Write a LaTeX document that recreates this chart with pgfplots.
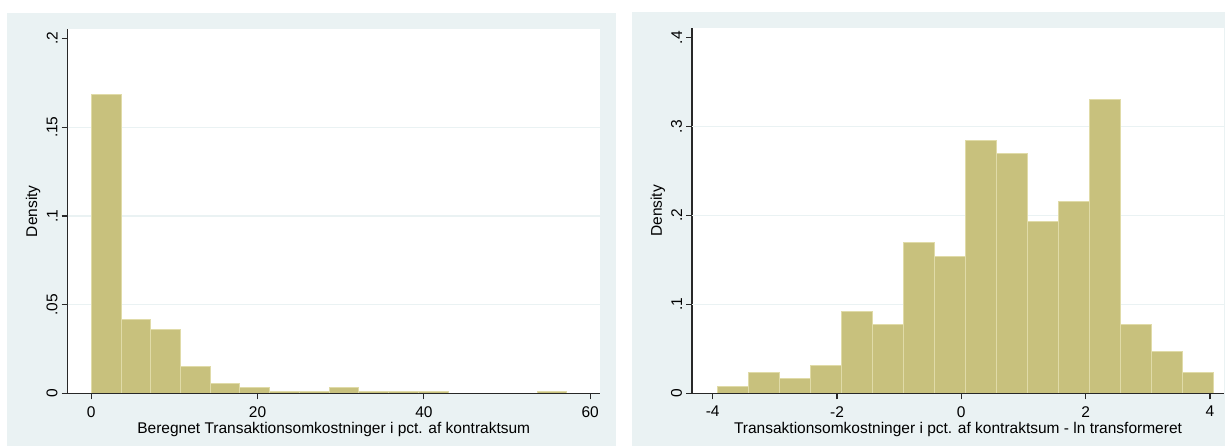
\documentclass[border=0pt]{standalone}
\usepackage{fontspec}
\setmainfont{Liberation Sans}
\usepackage{pgfplots}
\pgfplotsset{compat=1.18}

\definecolor{statabg}{RGB}{234,242,243}
\definecolor{barfill}{RGB}{200,193,125}
\definecolor{barline}{RGB}{224,219,168}
\definecolor{axisgray}{RGB}{40,40,40}

\newcommand{\statafont}{\fontsize{15.5}{18}\selectfont}

\pgfplotsset{
  statahist/.style={
    scale only axis,
    anchor=south west,
    axis lines*=left,
    axis line style={axisgray, line width=1.2pt},
    axis background/.style={fill=white},
    tick align=outside,
    major tick length=6pt,
    tick style={axisgray, line width=1.2pt},
    ymin=0,
    clip=false,
    ticklabel style={font=\statafont, inner sep=0pt},
    yticklabel style={rotate=90, anchor=south, outer sep=4pt},
    xticklabel style={anchor=north, outer sep=7pt},
    label style={font=\statafont, inner sep=0pt},
    ylabel={Density},
    ylabel style={at={(rel axis cs:-0.0644,0.5)}, anchor=center},
    xlabel style={at={(rel axis cs:0.5,0)}, anchor=north, yshift=-29pt},
    extra y tick labels={},
    extra y tick style={grid=major, major tick length=0pt,
      major grid style={statabg, line width=1.2pt}},
  },
  statabar/.style={ybar interval, fill=barfill, draw=barline, line width=1pt},
}

\begin{document}
\begin{tikzpicture}[x=1pt,y=1pt]
\fill[white] (0,0) rectangle (1225,-446);
\fill[statabg] (7,-13.3) rectangle (616,-446);
\fill[statabg] (632,-12) rectangle (1225,-446);

% left: raw transaction costs
\begin{axis}[statahist,
  at={(67.5pt,-393.3pt)},
  width=532.5pt, height=364pt,
  xmin=-2.862, xmax=61.18, ymax=0.2052,
  xtick={0,20,40,60}, xticklabels={0,20,40,60},
  ytick={0,0.05,0.1,0.15,0.2}, yticklabels={0,.05,.1,.15,.2},
  extra y ticks={0.05,0.1,0.15},
  xlabel={Beregnet Transaktionsomkostninger i pct. af kontraktsum},
]
\addplot[statabar] coordinates {
  (0,0.1685) (3.575,0.0415) (7.15,0.0362) (10.725,0.0152) (14.3,0.0054)
  (17.875,0.0033) (21.45,0.0011) (25.025,0.0011) (28.6,0.0033) (32.175,0.0011)
  (35.75,0.0011) (39.325,0.0011) (42.9,0) (46.475,0) (50.05,0)
  (53.625,0.0011) (57.2,0)
};
\draw[axisgray, line width=1.2pt] (rel axis cs:0,0) -- (rel axis cs:1,0);
\end{axis}

% right: log-transformed
\begin{axis}[statahist,
  at={(692pt,-393.3pt)},
  width=532pt, height=365pt,
  xmin=-4.333, xmax=4.227, ymax=0.4106,
  xtick={-4,-2,0,2,4}, xticklabels={-4,-2,0,2,4},
  ytick={0,0.1,0.2,0.3,0.4}, yticklabels={0,.1,.2,.3,.4},
  extra y ticks={0.1,0.2,0.3},
  xlabel={Transaktionsomkostninger i pct. af kontraktsum - ln transformeret},
]
\addplot[statabar] coordinates {
  (-3.924,0.0079) (-3.425,0.0236) (-2.926,0.0161) (-2.428,0.0311)
  (-1.929,0.0925) (-1.430,0.0775) (-0.931,0.1697) (-0.432,0.1543)
  (0.066,0.2843) (0.565,0.2693) (1.064,0.1929) (1.563,0.2157)
  (2.062,0.3307) (2.560,0.0775) (3.059,0.0468) (3.558,0.0236)
  (4.057,0)
};
\draw[axisgray, line width=1.2pt] (rel axis cs:0,0) -- (rel axis cs:1,0);
\end{axis}
\end{tikzpicture}
\end{document}
